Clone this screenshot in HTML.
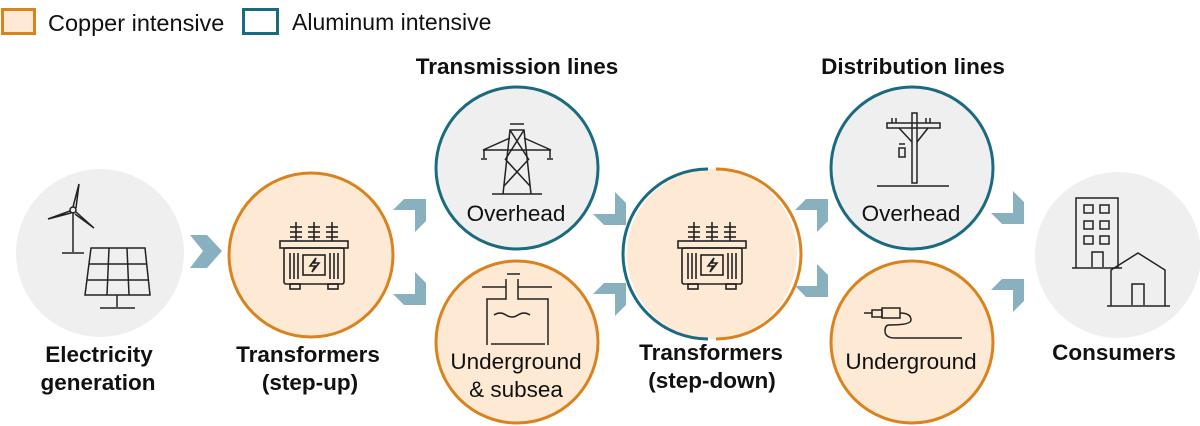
<!DOCTYPE html>
<html><head><meta charset="utf-8"><style>
html,body{margin:0;padding:0;background:#fff;width:1200px;height:426px;overflow:hidden}
svg{display:block}
text{font-family:"Liberation Sans",sans-serif;fill:#111}
</style></head><body>
<svg width="1200" height="426" viewBox="0 0 1200 426" xmlns="http://www.w3.org/2000/svg">
<defs>
<polygon id="ur" points="0,11 11,0 33,0 33,22 22,33 22,11" fill="#88b0bf"/>
<polygon id="dr" points="0,22 11,33 33,33 33,11 22,0 22,22" fill="#88b0bf"/>
<g id="xf" fill="none" stroke="#222" stroke-width="1.6">
  <g>
    <line x1="-18" y1="-33" x2="-18" y2="-14"/><line x1="0" y1="-33" x2="0" y2="-14"/><line x1="18" y1="-33" x2="18" y2="-14"/>
    <line x1="-24" y1="-28" x2="-12" y2="-28"/><line x1="-24" y1="-23" x2="-12" y2="-23"/><line x1="-24" y1="-18" x2="-12" y2="-18"/>
    <line x1="-6" y1="-28" x2="6" y2="-28"/><line x1="-6" y1="-23" x2="6" y2="-23"/><line x1="-6" y1="-18" x2="6" y2="-18"/>
    <line x1="12" y1="-28" x2="24" y2="-28"/><line x1="12" y1="-23" x2="24" y2="-23"/><line x1="12" y1="-18" x2="24" y2="-18"/>
  </g>
  <rect x="-34" y="-14" width="68" height="7"/>
  <rect x="-30" y="-7" width="60" height="36" rx="2"/>
  <line x1="-24" y1="-2" x2="-24" y2="24"/><line x1="-20" y1="-2" x2="-20" y2="24"/><line x1="-16" y1="-2" x2="-16" y2="24"/>
  <line x1="24" y1="-2" x2="24" y2="24"/><line x1="20" y1="-2" x2="20" y2="24"/><line x1="16" y1="-2" x2="16" y2="24"/>
  <rect x="-11" y="0" width="22" height="20"/>
  <path d="M2,3 L-4,11 L1,11 L-2,17 L5,8 L0,8 Z"/>
  <rect x="-24" y="29" width="10" height="5"/><rect x="14" y="29" width="10" height="5"/>
</g>
</defs>

<!-- legend -->
<rect x="2.5" y="9.5" width="32" height="24" fill="#fde9d4" stroke="#d9821e" stroke-width="3"/>
<text x="48" y="31" font-size="23.5">Copper intensive</text>
<rect x="243.5" y="9.5" width="34" height="24" fill="#fff" stroke="#1b6b80" stroke-width="3"/>
<text x="292" y="30" font-size="23">Aluminum intensive</text>

<!-- titles -->
<text x="517" y="74" font-size="22.5" font-weight="bold" text-anchor="middle">Transmission lines</text>
<text x="913" y="74" font-size="22.5" font-weight="bold" text-anchor="middle">Distribution lines</text>

<!-- circles -->
<circle cx="100" cy="253" r="84" fill="#efefef"/>
<circle cx="311" cy="255" r="82" fill="#fde9d4" stroke="#d9821e" stroke-width="3"/>
<circle cx="517" cy="168" r="81" fill="#efefef" stroke="#1b6b80" stroke-width="3"/>
<circle cx="517" cy="342" r="81" fill="#fde9d4" stroke="#d9821e" stroke-width="3"/>
<circle cx="712" cy="254" r="85" fill="#fde9d4"/>
<path d="M708,169 A85,85 0 0 0 708,339" fill="none" stroke="#1b6b80" stroke-width="3"/>
<path d="M716,169 A85,85 0 0 1 716,339" fill="none" stroke="#d9821e" stroke-width="3"/>
<circle cx="912" cy="168" r="81" fill="#efefef" stroke="#1b6b80" stroke-width="3"/>
<circle cx="912" cy="342" r="81" fill="#fde9d4" stroke="#d9821e" stroke-width="3"/>
<circle cx="1118" cy="255" r="83" fill="#efefef"/>

<!-- arrows -->
<polygon points="190,235 207,235 222,251 207,268 190,268 203,251" fill="#88b0bf"/>
<use href="#ur" x="393" y="199"/>
<use href="#dr" x="393" y="272"/>
<use href="#dr" x="593" y="192"/>
<use href="#ur" x="593" y="283"/>
<use href="#ur" x="795" y="199"/>
<use href="#dr" x="795" y="264"/>
<use href="#dr" x="991" y="191"/>
<use href="#ur" x="991" y="279"/>

<!-- wind + solar -->
<g fill="none" stroke="#222" stroke-width="1.5">
  <line x1="73" y1="212" x2="73" y2="252"/><line x1="62" y1="253" x2="84" y2="253"/>
  <circle cx="73" cy="210" r="3"/>
  <path d="M73,207 L79,184 L76,208"/>
  <path d="M70,211 L48,219 L71,213"/>
  <path d="M76,212 L94,228 L75,214"/>
  <path d="M91,248 L145,248 L150,295 L85,295 Z"/>
  <line x1="89" y1="264" x2="147" y2="264"/><line x1="87" y1="280" x2="149" y2="280"/>
  <line x1="109" y1="248" x2="107" y2="295"/><line x1="127" y1="248" x2="129" y2="295"/>
  <line x1="117" y1="295" x2="117" y2="307"/><line x1="100" y1="308" x2="135" y2="308"/>
</g>

<use href="#xf" transform="translate(314,255)"/>
<use href="#xf" transform="translate(712,255)"/>

<!-- tower -->
<g fill="none" stroke="#222" stroke-width="1.5">
  <line x1="510" y1="124" x2="524" y2="124"/>
  <path d="M503,194 L510,130 L524,130 L531,194"/>
  <path d="M510,130 L529,160 M524,130 L505,160 M506,160 L530,186 M528,160 L504,186"/>
  <path d="M510,138 L483,150 L551,150 L524,138"/>
  <line x1="484" y1="150" x2="484" y2="158"/><line x1="550" y1="150" x2="550" y2="158"/>
  <line x1="481" y1="159" x2="487" y2="159"/><line x1="547" y1="159" x2="553" y2="159"/>
  <line x1="492" y1="194" x2="542" y2="194"/>
</g>
<text x="516" y="221" font-size="22.5" text-anchor="middle">Overhead</text>

<!-- underground tank -->
<g fill="none" stroke="#222" stroke-width="1.5">
  <line x1="507" y1="274" x2="520" y2="274"/>
  <path d="M482,287 L506,287 L506,279 L506,299 L487,299 L487,345"/>
  <path d="M552,287 L518,287 L518,279 L518,299 L548,299 L548,345"/>
  <line x1="491" y1="344" x2="545" y2="344"/>
  <path d="M494,315 q6,-4 12,0 t12,0 t12,0"/>
</g>
<text x="516" y="369" font-size="22.5" text-anchor="middle">Underground</text>
<text x="516" y="397" font-size="22.5" text-anchor="middle">&amp; subsea</text>

<!-- pole -->
<g fill="none" stroke="#222" stroke-width="1.5">
  <rect x="912" y="113" width="5" height="70"/>
  <rect x="887" y="123" width="53" height="5"/>
  <line x1="899" y1="128" x2="912" y2="142"/><line x1="928" y1="128" x2="917" y2="142"/>
  <line x1="892" y1="118" x2="892" y2="123"/><line x1="896" y1="118" x2="896" y2="123"/>
  <line x1="926" y1="118" x2="926" y2="123"/><line x1="930" y1="118" x2="930" y2="123"/>
  <rect x="899" y="148" width="6" height="9"/><line x1="899" y1="144" x2="905" y2="144"/>
  <line x1="877" y1="186" x2="949" y2="186"/>
</g>
<text x="911" y="221" font-size="22.5" text-anchor="middle">Overhead</text>

<!-- cable -->
<g fill="none" stroke="#222" stroke-width="1.5">
  <line x1="864" y1="313" x2="872" y2="313"/>
  <rect x="872" y="310" width="10" height="7"/>
  <rect x="882" y="308" width="18" height="10"/>
  <path d="M900,313 Q911,313 911,320 Q911,325 889,325 Q885,325 885,331 Q885,338 895,338 L962,338"/>
</g>
<text x="911" y="369" font-size="22.5" text-anchor="middle">Underground</text>

<!-- buildings -->
<g fill="none" stroke="#222" stroke-width="1.5">
  <path d="M1076,268 L1076,198 L1118,198 L1118,268"/>
  <rect x="1084" y="205" width="9" height="8"/><rect x="1100" y="205" width="9" height="8"/>
  <rect x="1084" y="221" width="9" height="8"/><rect x="1100" y="221" width="9" height="8"/>
  <rect x="1084" y="236" width="9" height="8"/><rect x="1100" y="236" width="9" height="8"/>
  <path d="M1092,267 L1092,252 L1103,252 L1103,267"/>
  <line x1="1072" y1="268" x2="1122" y2="268"/>
  <path d="M1111,306 L1111,270 L1138,253 L1165,270 L1165,306"/>
  <path d="M1132,305 L1132,284 L1144,284 L1144,305"/>
  <line x1="1107" y1="306" x2="1170" y2="306"/>
</g>

<!-- labels -->
<g font-size="22.5" font-weight="bold" text-anchor="middle">
<text x="99" y="362">Electricity</text>
<text x="98" y="390">generation</text>
<text x="308" y="362">Transformers</text>
<text x="310" y="390">(step-up)</text>
<text x="711" y="360">Transformers</text>
<text x="712" y="388">(step-down)</text>
<text x="1114" y="360">Consumers</text>
</g>
</svg>
</body></html>
